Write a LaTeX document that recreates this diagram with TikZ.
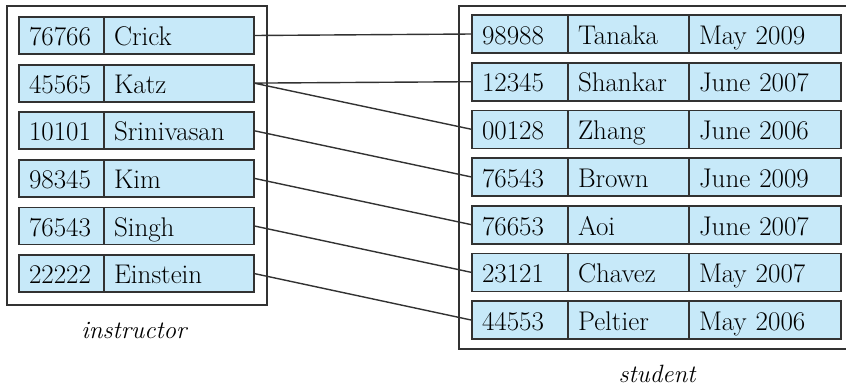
\documentclass[tikz,border=0pt]{standalone}
\usetikzlibrary{positioning}
\definecolor{cellblue}{RGB}{199,233,249}
\definecolor{edgegray}{RGB}{50,50,50}
\tikzset{
  cell/.style={rectangle, draw=edgegray, fill=cellblue, line width=1.8pt, outer sep=0pt,
    inner xsep=10pt, inner ysep=0pt, minimum height=#1, text height=20.4pt, text depth=0pt,
    align=left, font=\fontsize{27}{32}\selectfont},
  cell/.default=37pt,
  link/.style={draw=edgegray, line width=1.4pt},
  relname/.style={font=\fontsize{25}{30}\selectfont\itshape, inner sep=0pt}
}
\begin{document}
\begin{tikzpicture}[x=1pt,y=-1pt]
\useasboundingbox (0,0) rectangle (846,386);
\draw[edgegray, line width=1.8pt] (7,6) rectangle (267,305);
\draw[edgegray, line width=1.8pt] (459,6) rectangle (850,349);

\node[cell, text width=65pt, anchor=west] (iid1) at (19,35.5){76766};
\node[cell, text width=130pt, right=0pt of iid1] (inm1){Crick};
\node[cell, text width=65pt, anchor=west] (iid2) at (19,83.1){45565};
\node[cell, text width=130pt, right=0pt of iid2] (inm2){Katz};
\node[cell, text width=65pt, anchor=west] (iid3) at (19,130.7){10101};
\node[cell, text width=130pt, right=0pt of iid3] (inm3){Srinivasan};
\node[cell, text width=65pt, anchor=west] (iid4) at (19,178.3){98345};
\node[cell, text width=130pt, right=0pt of iid4] (inm4){Kim};
\node[cell, text width=65pt, anchor=west] (iid5) at (19,225.9){76543};
\node[cell, text width=130pt, right=0pt of iid5] (inm5){Singh};
\node[cell, text width=65pt, anchor=west] (iid6) at (19,273.5){22222};
\node[cell, text width=130pt, right=0pt of iid6] (inm6){Einstein};
\node[relname, anchor=base] (ilabel) at (134,338){instructor};

\node[cell=38pt, text width=76pt, anchor=west] (sid1) at (472,34){98988};
\node[cell=38pt, text width=101pt, right=0pt of sid1] (snm1){Tanaka};
\node[cell=38pt, text width=132pt, right=0pt of snm1] (sdt1){May 2009};
\node[cell=38pt, text width=76pt, anchor=west] (sid2) at (472,81.7){12345};
\node[cell=38pt, text width=101pt, right=0pt of sid2] (snm2){Shankar};
\node[cell=38pt, text width=132pt, right=0pt of snm2] (sdt2){June 2007};
\node[cell=38pt, text width=76pt, anchor=west] (sid3) at (472,129.4){00128};
\node[cell=38pt, text width=101pt, right=0pt of sid3] (snm3){Zhang};
\node[cell=38pt, text width=132pt, right=0pt of snm3] (sdt3){June 2006};
\node[cell=38pt, text width=76pt, anchor=west] (sid4) at (472,177.1){76543};
\node[cell=38pt, text width=101pt, right=0pt of sid4] (snm4){Brown};
\node[cell=38pt, text width=132pt, right=0pt of snm4] (sdt4){June 2009};
\node[cell=38pt, text width=76pt, anchor=west] (sid5) at (472,224.8){76653};
\node[cell=38pt, text width=101pt, right=0pt of sid5] (snm5){Aoi};
\node[cell=38pt, text width=132pt, right=0pt of snm5] (sdt5){June 2007};
\node[cell=38pt, text width=76pt, anchor=west] (sid6) at (472,272.5){23121};
\node[cell=38pt, text width=101pt, right=0pt of sid6] (snm6){Chavez};
\node[cell=38pt, text width=132pt, right=0pt of snm6] (sdt6){May 2007};
\node[cell=38pt, text width=76pt, anchor=west] (sid7) at (472,320.2){44553};
\node[cell=38pt, text width=101pt, right=0pt of sid7] (snm7){Peltier};
\node[cell=38pt, text width=132pt, right=0pt of snm7] (sdt7){May 2006};
\node[relname, anchor=base] (slabel) at (657,382){student};

\draw[link](inm1.east) -- (sid1.west);
\draw[link](inm2.east) -- (sid2.west);
\draw[link](inm2.east) -- (sid3.west);
\draw[link](inm3.east) -- (sid4.west);
\draw[link](inm4.east) -- (sid5.west);
\draw[link](inm5.east) -- (sid6.west);
\draw[link](inm6.east) -- (sid7.west);

\end{tikzpicture}
\end{document}
